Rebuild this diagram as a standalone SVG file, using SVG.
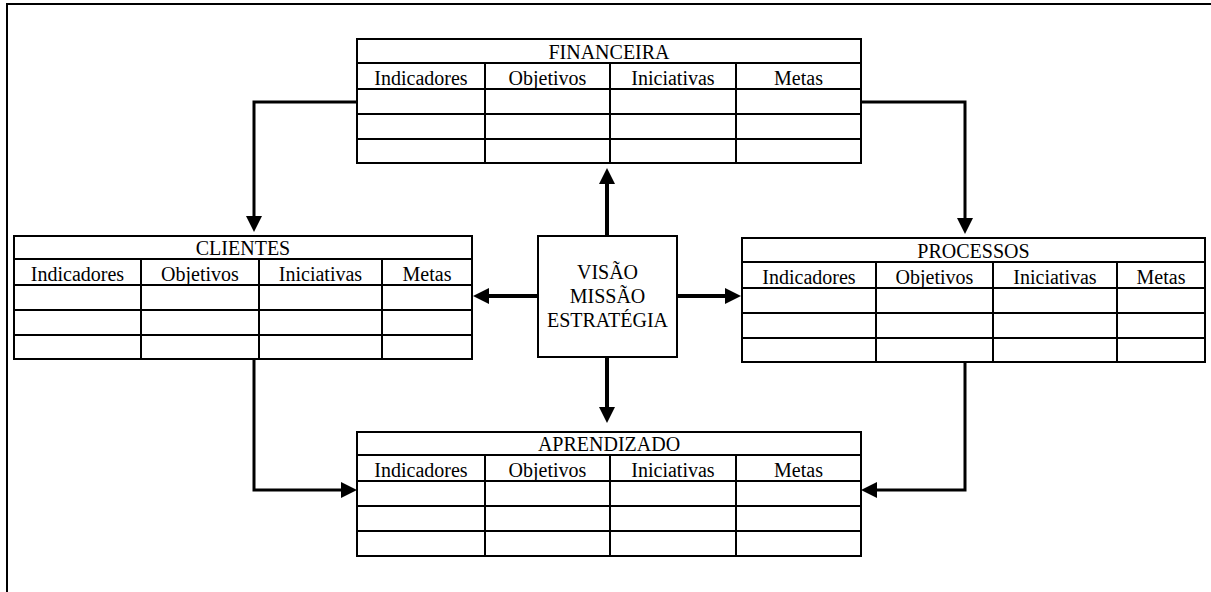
<svg xmlns="http://www.w3.org/2000/svg" width="1211" height="592" viewBox="0 0 1211 592">
<style>
.frame{fill:none;stroke:#000;stroke-width:2}
.tb{fill:#fff;stroke:#000;stroke-width:2}
.ln{stroke:#000;stroke-width:2;fill:none}
.t{font-family:"Liberation Serif","Times New Roman",serif;font-size:20px;fill:#000;text-anchor:middle}
.con{fill:none;stroke:#000;stroke-width:3}
.cen{fill:none;stroke:#000;stroke-width:4}
</style>
<defs>
<marker id="ah" markerUnits="userSpaceOnUse" markerWidth="16" markerHeight="16" viewBox="0 0 16 16" refX="6" refY="8" orient="auto">
<path d="M0,0 L16,8 L0,16 z" fill="#000"/>
</marker>
</defs>
<rect width="1211" height="592" fill="#fff"/>
<path class="frame" d="M7,592 V4 H1211"/>

<g id="financeira">
<rect class="tb" x="357" y="39" width="504" height="124"/>
<path class="ln" d="M357,63 H861 M357,89 H861 M357,114 H861 M357,139 H861 M485,63 V163 M610,63 V163 M736,63 V163"/>
<text class="t" x="609" y="59">FINANCEIRA</text>
<text class="t" x="421" y="85">Indicadores</text>
<text class="t" x="547.5" y="85">Objetivos</text>
<text class="t" x="673" y="85">Iniciativas</text>
<text class="t" x="798.5" y="85">Metas</text>
</g>

<g id="clientes">
<rect class="tb" x="14" y="236" width="458" height="123"/>
<path class="ln" d="M14,259 H472 M14,285 H472 M14,310 H472 M14,335 H472 M141,259 V359 M259,259 V359 M382,259 V359"/>
<text class="t" x="243" y="255">CLIENTES</text>
<text class="t" x="77.5" y="281">Indicadores</text>
<text class="t" x="200" y="281">Objetivos</text>
<text class="t" x="320.5" y="281">Iniciativas</text>
<text class="t" x="427" y="281">Metas</text>
</g>

<g id="processos">
<rect class="tb" x="742" y="238" width="463" height="124"/>
<path class="ln" d="M742,262 H1205 M742,288 H1205 M742,313 H1205 M742,338 H1205 M876,262 V362 M993,262 V362 M1117,262 V362"/>
<text class="t" x="973.5" y="258">PROCESSOS</text>
<text class="t" x="809" y="284">Indicadores</text>
<text class="t" x="934.5" y="284">Objetivos</text>
<text class="t" x="1055" y="284">Iniciativas</text>
<text class="t" x="1161" y="284">Metas</text>
</g>

<g id="aprendizado">
<rect class="tb" x="357" y="432" width="504" height="124"/>
<path class="ln" d="M357,455 H861 M357,481 H861 M357,506 H861 M357,531 H861 M485,455 V556 M610,455 V556 M736,455 V556"/>
<text class="t" x="609" y="451">APRENDIZADO</text>
<text class="t" x="421" y="477">Indicadores</text>
<text class="t" x="547.5" y="477">Objetivos</text>
<text class="t" x="673" y="477">Iniciativas</text>
<text class="t" x="798.5" y="477">Metas</text>
</g>

<g id="centro">
<rect class="tb" x="538" y="236" width="139" height="121"/>
<text class="t" x="607.5" y="279">VISÃO</text>
<text class="t" x="607.5" y="303">MISSÃO</text>
<text class="t" x="607.5" y="327">ESTRATÉGIA</text>
</g>

<g id="connectors">
<path class="con" d="M357,102 H254 V222" marker-end="url(#ah)"/>
<path class="con" d="M861,102 H965 V224" marker-end="url(#ah)"/>
<path class="con" d="M254,359 V490 H347" marker-end="url(#ah)"/>
<path class="con" d="M965,362 V490 H871" marker-end="url(#ah)"/>
<path class="cen" d="M607,236 V178" marker-end="url(#ah)"/>
<path class="cen" d="M607,357 V413" marker-end="url(#ah)"/>
<path class="cen" d="M538,296 H483" marker-end="url(#ah)"/>
<path class="cen" d="M677,296 H731" marker-end="url(#ah)"/>
</g>
</svg>
